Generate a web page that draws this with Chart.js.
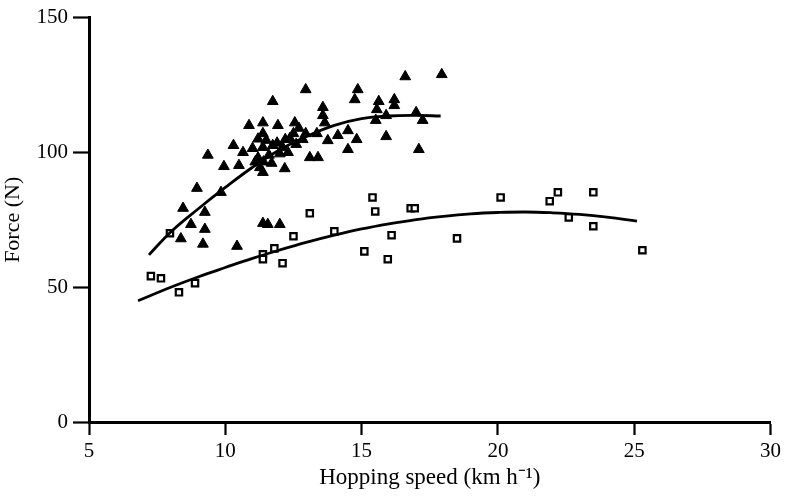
<!DOCTYPE html>
<html>
<head>
<meta charset="utf-8">
<style>
  html, body { margin: 0; padding: 0; background: #fff; }
  #wrap { width: 785px; height: 497px; }
</style>
</head>
<body>
<div id="wrap">
  <canvas id="myChart"></canvas>
</div>

<script src="https://cdn.jsdelivr.net/npm/chart.js"></script>
<script>
  // tick labels
  const xTicks = [5, 10, 15, 20, 25, 30];
  const yTicks = [0, 50, 100, 150];

  // filled triangles (upper group)
  const triX = [8.37, 8.45, 8.74, 8.96, 9.18, 9.25, 9.25, 9.36, 9.84, 9.95,
    10.3, 10.43, 10.5, 10.65, 10.87, 11.0, 11.27, 11.38, 11.38, 11.38,
    11.38, 11.38, 11.56, 11.74, 11.74, 11.93, 12.0, 12.1, 12.18, 12.55,
    12.37, 12.84, 12.95, 13.1, 13.36, 13.4, 13.58, 13.58, 13.65, 13.76,
    14.13, 14.5, 14.5, 14.75, 14.82, 14.86, 15.52, 15.56, 15.63, 15.9,
    15.9, 16.2, 16.2, 16.6, 17.0, 17.1, 17.24, 17.94, 11.9, 12.2,
    12.5, 12.95, 11.4, 11.2, 11.7, 12.0, 11.5, 12.7, 11.2, 11.6,
    12.3, 11.1, 12.6];
  const triY = [68, 79.3, 73.3, 86.7, 66, 71.5, 77.8, 99, 85.2, 94.8,
    102.6, 65.2, 95.2, 100, 110, 101.5, 94.4, 92.6, 107, 111,
    101.9, 73.7, 73.3, 118.9, 102.6, 110, 73.3, 101.9, 94, 111,
    105.2, 104.8, 123.3, 98.1, 107, 98.1, 116.7, 113.7, 111, 104.4,
    106.3, 108.1, 101.1, 119.6, 104.8, 123.3, 111.9, 115.9, 118.9, 113.7,
    105.9, 119.6, 117.4, 128.1, 114.8, 101.1, 111.9, 128.9, 103.5, 104.8,
    107, 107, 96.5, 98, 96, 99.5, 104.5, 109, 105, 99,
    100, 96.5, 103];

  // open squares (lower group)
  const sqX = [7.27, 7.64, 7.97, 8.3, 8.89, 11.38, 11.8, 11.38, 12.1, 12.5,
    13.1, 14.0, 15.1, 15.5, 15.4, 16.8, 16.95, 16.1, 15.96, 18.5,
    20.1, 21.9, 22.2, 22.6, 23.5, 23.5, 25.3];
  const sqY = [54.1, 53.3, 70, 48.1, 51.5, 62.2, 64.4, 60.4, 58.9, 68.9,
    77.4, 70.7, 63.3, 78.1, 83.3, 79.3, 79.3, 69.3, 60.4, 68.1,
    83.3, 81.9, 85.2, 75.9, 85.2, 72.6, 63.7];

  // fitted curves
  const triFitX = [7.2, 8, 9, 10, 11, 12, 13, 14, 15, 16, 17, 17.9];
  const triFitY = [62, 70.5, 79, 87, 94.5, 101, 106, 110, 112.5, 113.5, 113.7, 113.5];
  const sqFitX = [6.8, 8, 9, 10, 11, 12, 13, 14, 15, 16, 17, 18, 19, 20, 21, 22, 23, 24, 25.1];
  const sqFitY = [45, 50, 53.8, 57.3, 60.7, 63.8, 66.7, 69.3, 71.6, 73.5, 75.1, 76.3, 77.2, 77.7, 77.9, 77.6, 77, 76, 74.5];

  const pts = (xs, ys) => xs.map((x, i) => ({ x: x, y: ys[i] }));

  const ctx = document.getElementById('myChart');
  const font = 'Liberation Serif';

  const myChart = new Chart(ctx, {
    type: 'scatter',
    data: {
      datasets: [
        {
          label: 'fit triangles',
          data: pts(triFitX, triFitY),
          showLine: true,
          borderColor: '#000',
          borderWidth: 2.8,
          pointRadius: 0,
          tension: 0.4
        },
        {
          label: 'fit squares',
          data: pts(sqFitX, sqFitY),
          showLine: true,
          borderColor: '#000',
          borderWidth: 2.8,
          pointRadius: 0,
          tension: 0.4
        },
        {
          label: 'triangles',
          data: pts(triX, triY),
          pointStyle: 'triangle',
          pointRadius: 6.2,
          backgroundColor: '#000',
          borderColor: '#000',
          borderWidth: 1
        },
        {
          label: 'squares',
          data: pts(sqX, sqY),
          pointStyle: 'rect',
          pointRadius: 4.5,
          backgroundColor: '#fff',
          borderColor: '#000',
          borderWidth: 2.2
        }
      ]
    },
    options: {
      responsive: true,
      maintainAspectRatio: false,
      animation: false,
      layout: { padding: { top: 17, right: 14, left: 0, bottom: 0 } },
      plugins: {
        legend: { display: false },
        tooltip: { enabled: false }
      },
      scales: {
        x: {
          type: 'linear',
          min: 5,
          max: 30,
          afterBuildTicks: (axis) => { axis.ticks = xTicks.map(v => ({ value: v })); },
          afterFit: (axis) => { axis.height = 75; },
          grid: {
            drawOnChartArea: false,
            drawTicks: true,
            tickLength: 13,
            tickWidth: 2.2,
            tickColor: '#000'
          },
          border: { display: true, color: '#000', width: 3 },
          ticks: {
            color: '#000',
            padding: 4,
            font: { family: font, size: 21 }
          },
          title: {
            display: true,
            text: 'Hopping speed (km h\u207B\u00B9)',
            color: '#000',
            padding: { top: 0, bottom: 5 },
            font: { family: font, size: 23 }
          }
        },
        y: {
          type: 'linear',
          min: 0,
          max: 150,
          afterBuildTicks: (axis) => { axis.ticks = yTicks.map(v => ({ value: v })); },
          afterFit: (axis) => { axis.width = 89; },
          grid: {
            drawOnChartArea: false,
            drawTicks: true,
            tickLength: 16,
            tickWidth: 2.2,
            tickColor: '#000'
          },
          border: { display: true, color: '#000', width: 3 },
          ticks: {
            color: '#000',
            padding: 5,
            font: { family: font, size: 21 }
          },
          title: {
            display: true,
            text: 'Force (N)',
            color: '#000',
            padding: { top: 0, bottom: 0 },
            font: { family: font, size: 22 }
          }
        }
      }
    }
  });
</script>
</body>
</html>
